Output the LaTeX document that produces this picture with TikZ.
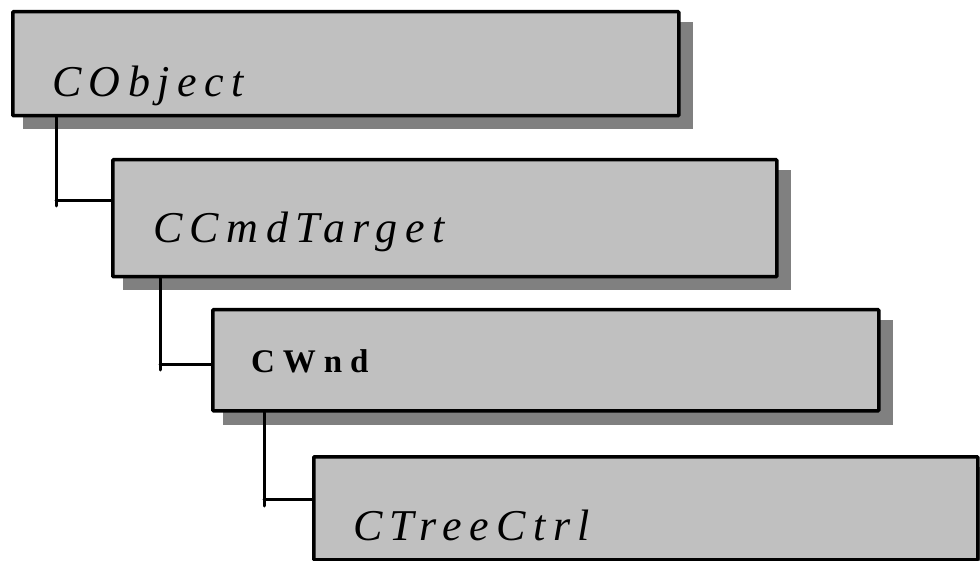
\documentclass[tikz,border=0pt]{standalone}
\usepackage{fontspec}
\setmainfont{Liberation Serif}
\newfontfamily\spacedserif[LetterSpace=17]{Liberation Serif}
\newfontfamily\spacedbold[LetterSpace=24]{Liberation Serif}
\usetikzlibrary{backgrounds}
\definecolor{boxgray}{HTML}{C0C0C0}
\definecolor{shadowgray}{HTML}{808080}
\tikzset{
  classbox/.style={draw=black, fill=boxgray, line width=3.5pt, anchor=north west,
    inner sep=0pt, rounded corners=0.8pt},
  classname/.style={anchor=base west, inner sep=0pt, font=\spacedserif\itshape\fontsize{44}{50}\selectfont},
  boldname/.style={anchor=base west, inner sep=0pt, font=\spacedbold\bfseries\fontsize{33}{38}\selectfont},
  link/.style={line width=3pt, line cap=round},
  boxshadow/.style={fill=shadowgray}
}
\begin{document}
\begin{tikzpicture}[x=1pt, y=-1pt]
  \useasboundingbox (0,0) rectangle (980,561);

  % class boxes
  \node[classbox, minimum width=666pt, minimum height=104pt] (b1) at (11,10) {};
  \node[classbox, minimum width=664pt, minimum height=117pt] (b2) at (111,158) {};
  \node[classbox, minimum width=666pt, minimum height=101pt] (b3) at (211,308) {};
  \node[classbox, minimum width=664pt, minimum height=103pt] (b4) at (312,455) {};

  % drop shadows behind the boxes
  \begin{scope}[on background layer]
    \foreach \b in {b1,b2,b3,b4}
      \fill[boxshadow] ([shift={(12,12)}]\b.north west) rectangle ([shift={(12,12)}]\b.south east);
  \end{scope}

  % class names
  \node[classname] (t1) at (52,97) {CObject};
  \node[classname] (t2) at (153,243) {CCmdTarget};
  \node[boldname]  (t3) at (251,372) {CWnd};
  \node[classname] (t4) at (353,540) {CTreeCtrl};

  % inheritance connectors
  \coordinate (k1) at (56,206);
  \coordinate (k2) at (160,370);
  \coordinate (k3) at (264,506);
  \draw[link] (b1.south -| k1) -- (k1);
  \draw[link] (k1 |- 0,201) -- (b2.west |- 0,201);
  \draw[link] (b2.south -| k2) -- (k2);
  \draw[link] (k2 |- 0,364) -- (b3.west |- 0,364);
  \draw[link] (b3.south -| k3) -- (k3);
  \draw[link] (k3 |- 0,499) -- (b4.west |- 0,499);
\end{tikzpicture}
\end{document}
